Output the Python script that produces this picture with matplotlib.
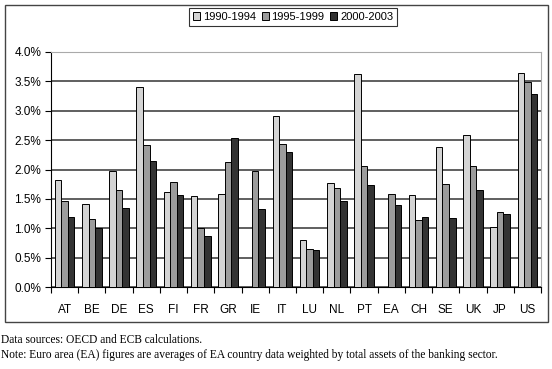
import numpy as np
import matplotlib.pyplot as plt
from matplotlib.patches import Rectangle
from matplotlib.ticker import FuncFormatter

countries = ['AT', 'BE', 'DE', 'ES', 'FI', 'FR', 'GR', 'IE', 'IT', 'LU',
             'NL', 'PT', 'EA', 'CH', 'SE', 'UK', 'JP', 'US']
p1990 = [1.82, 1.41, 1.98, 3.40, 1.62, 1.55, 1.58, np.nan, 2.91, 0.80,
         1.77, 3.63, np.nan, 1.56, 2.39, 2.59, 1.02, 3.65]
p1995 = [1.47, 1.16, 1.65, 2.42, 1.78, 1.00, 2.13, 1.98, 2.43, 0.64,
         1.68, 2.06, 1.59, 1.14, 1.76, 2.06, 1.27, 3.49]
p2000 = [1.19, 1.01, 1.35, 2.14, 1.56, 0.86, 2.53, 1.33, 2.30, 0.63,
         1.47, 1.74, 1.39, 1.19, 1.18, 1.65, 1.24, 3.28]
series = ['1990-1994', '1995-1999', '2000-2003']
colors = ['#d4d4d4', '#9c9c9c', '#333333']

plt.rcParams['font.family'] = ['Liberation Sans', 'DejaVu Sans']
fig = plt.figure(figsize=(5.52, 3.69), dpi=100)
ax = fig.add_axes([51 / 552, 1 - 287 / 369, 490 / 552, 235 / 369])

x = np.arange(len(countries))
w = 0.24
for i, (vals, name, c) in enumerate(zip([p1990, p1995, p2000], series, colors)):
    ax.bar(x + (i - 1) * w, vals, w, color=c, edgecolor='black', linewidth=0.7,
           label=name, zorder=3)

ax.set_xlim(-0.5, len(countries) - 0.5)
ax.set_ylim(0, 4.0)
ax.set_yticks(np.arange(0, 4.01, 0.5))
ax.yaxis.set_major_formatter(FuncFormatter(lambda v, p: '%.1f%%' % v))
ax.grid(axis='y', color='#444444', linewidth=1.2, zorder=0)
ax.set_xticks(x)
ax.set_xticklabels(countries)
ax.set_xticks(np.arange(-0.5, len(countries)), minor=True)
ax.tick_params(axis='x', which='major', length=0, pad=12, labelsize=8.5)
ax.tick_params(axis='x', which='minor', length=4, width=0.8)
ax.tick_params(axis='y', length=4, width=0.8, labelsize=8.5, pad=3)
for s in ['top', 'right']:
    ax.spines[s].set_color('#aaaaaa')
    ax.spines[s].set_linewidth(0.8)
for s in ['left', 'bottom']:
    ax.spines[s].set_color('black')
    ax.spines[s].set_linewidth(0.8)

leg = fig.legend(loc='center', bbox_to_anchor=(0.531, 0.954), ncol=3,
                 fontsize=8, frameon=True, fancybox=False, edgecolor='black',
                 handlelength=0.65, handleheight=0.65, handletextpad=0.25,
                 columnspacing=0.5, borderpad=0.35)
leg.get_frame().set_linewidth(0.8)

fig.patches.append(Rectangle((5 / 552, 1 - 322 / 369), 543 / 552, 317 / 369,
                             transform=fig.transFigure, fill=False,
                             edgecolor='#444444', linewidth=1.0))

fig.text(1 / 552, 1 - 340 / 369, 'Data sources: OECD and ECB calculations.',
         family='Liberation Serif', fontsize=8.3, va='center')
fig.text(1 / 552, 1 - 355 / 369,
         'Note: Euro area (EA) figures are averages of EA country data weighted '
         'by total assets of the banking sector.',
         family='Liberation Serif', fontsize=8.3, va='center')

fig.savefig('out.png', dpi=100)
